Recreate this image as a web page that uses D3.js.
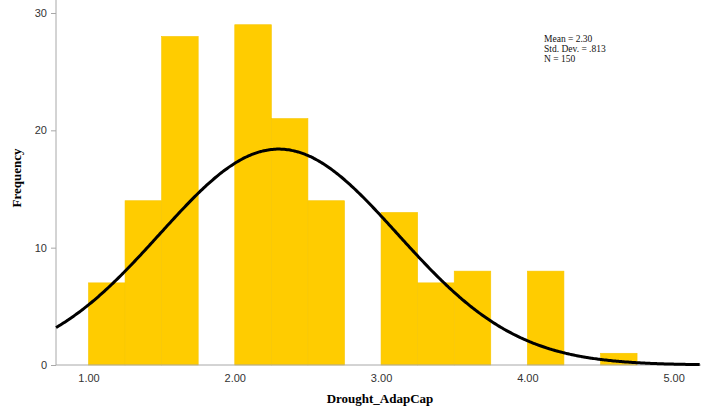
<!DOCTYPE html>
<html>
<head>
<meta charset="utf-8">
<script src="https://cdn.jsdelivr.net/npm/d3@7"></script>
<style>
  body { margin: 0; background: #fff; }
  svg { display: block; }
</style>
</head>
<body>
<div id="chart"></div>
<script>
// histogram bins (lower edge) and counts
const binStarts = [1.00, 1.25, 1.50, 1.75, 2.00, 2.25, 2.50, 2.75, 3.00, 3.25, 3.50, 3.75, 4.00, 4.25, 4.50];
const counts = [7, 14, 28, 0, 29, 21, 14, 0, 13, 7, 8, 0, 8, 0, 1];
const binWidth = 0.25;
const xTicks = [1, 2, 3, 4, 5];
const yTicks = [0, 10, 20, 30];
const statLines = ["Mean = 2.30", "Std. Dev. = .813", "N = 150"];
const mean = 2.30, sd = 0.813, n = 150;

const width = 701, height = 408;
const svg = d3.select("#chart").append("svg")
    .attr("width", width)
    .attr("height", height);

const x = d3.scaleLinear().domain([0.778, 5.187]).range([56, 701]);
const y = d3.scaleLinear().domain([0, 30]).range([365, 13]);

// bars
svg.selectAll("rect.bar")
    .data(binStarts.map((b, i) => ({ x0: b, count: counts[i] })).filter(d => d.count > 0))
    .enter().append("rect")
    .attr("class", "bar")
    .attr("x", d => x(d.x0))
    .attr("width", d => x(d.x0 + binWidth) - x(d.x0))
    .attr("y", d => y(d.count))
    .attr("height", d => y(0) - y(d.count))
    .style("fill", "#ffcc00")
    .style("stroke", "#f7c600")
    .style("stroke-width", 0.6);

// axes
const yAxis = svg.append("g")
    .attr("transform", "translate(56,0)")
    .call(d3.axisLeft(y).tickValues(yTicks).tickSize(5).tickSizeOuter(0));
yAxis.select(".domain").remove();
svg.append("line")
    .attr("x1", 56).attr("x2", 56).attr("y1", 0).attr("y2", 365)
    .style("stroke", "#a8a8a8");
yAxis.selectAll(".tick line").style("stroke", "#a8a8a8");
yAxis.selectAll(".tick text")
    .attr("x", -9)
    .style("font-family", "'Liberation Sans', Arial, sans-serif")
    .style("font-size", "11px")
    .style("fill", "#333");

const xAxis = svg.append("g")
    .attr("transform", "translate(0,365)")
    .call(d3.axisBottom(x).tickValues(xTicks).tickSize(0).tickFormat(d3.format(".2f")));
xAxis.select(".domain").remove();
svg.append("line")
    .attr("x1", 56).attr("x2", 701).attr("y1", 365).attr("y2", 365)
    .style("stroke", "#a8a8a8");
xAxis.selectAll(".tick text")
    .attr("y", 9)
    .style("font-family", "'Liberation Sans', Arial, sans-serif")
    .style("font-size", "11px")
    .style("fill", "#333");

// normal curve from mean / sd / n
const xs = d3.range(0.778, 5.1875, 0.01);
const curve = xs.map(v => [v, n * binWidth * Math.exp(-0.5 * ((v - mean) / sd) ** 2) / (sd * Math.sqrt(2 * Math.PI))]);
svg.append("path")
    .datum(curve)
    .attr("d", d3.line().x(d => x(d[0])).y(d => y(d[1])).curve(d3.curveBasis))
    .style("fill", "none")
    .style("stroke", "#000")
    .style("stroke-width", 3);

// titles
svg.append("text")
    .attr("transform", "translate(21,178) rotate(-90)")
    .attr("text-anchor", "middle")
    .style("font-family", "'Liberation Serif', 'Times New Roman', serif")
    .style("font-weight", "bold")
    .style("font-size", "13px")
    .text("Frequency");

svg.append("text")
    .attr("x", 380).attr("y", 403)
    .attr("text-anchor", "middle")
    .style("font-family", "'Liberation Serif', 'Times New Roman', serif")
    .style("font-weight", "bold")
    .style("font-size", "13px")
    .text("Drought_AdapCap");

// stats box
svg.selectAll("text.stat")
    .data(statLines)
    .enter().append("text")
    .attr("class", "stat")
    .attr("x", 544)
    .attr("y", (d, i) => 42 + i * 10)
    .style("font-family", "'Liberation Serif', 'Times New Roman', serif")
    .style("font-size", "9.5px")
    .style("fill", "#111")
    .text(d => d);
</script>
</body>
</html>
